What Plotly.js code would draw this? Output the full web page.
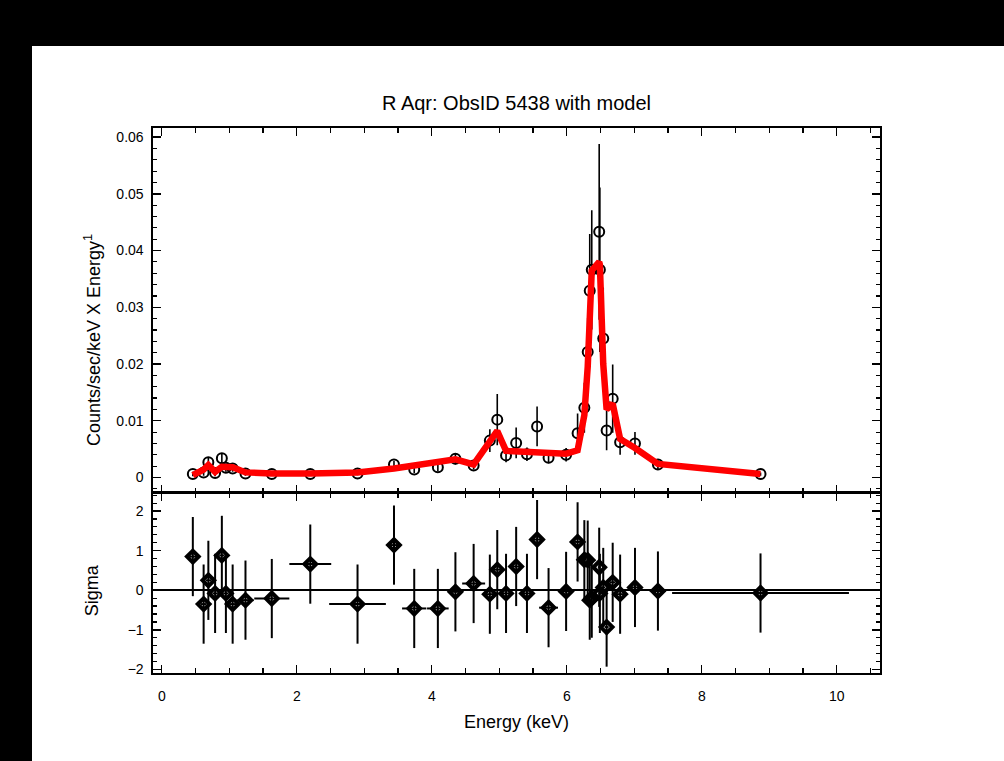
<!DOCTYPE html>
<html>
<head>
<meta charset="utf-8">
<script src="https://cdn.plot.ly/plotly-3.0.1.min.js"></script>
<style>
  html, body { margin: 0; padding: 0; background: #000; width: 1004px; height: 761px; overflow: hidden; }
  #plot { position: absolute; left: 32px; top: 46px; width: 972px; height: 715px; background: #fff; }
</style>
</head>
<body>
<div id="plot"></div>
<script>
// Energy bins (keV) and half-widths
const energy = [0.46,0.62,0.69,0.79,0.89,0.95,1.05,1.24,1.63,2.20,2.90,3.44,3.74,4.09,4.35,4.62,4.86,4.97,5.10,5.25,5.41,5.56,5.73,5.99,6.16,6.26,6.31,6.34,6.37,6.48,6.49,6.54,6.59,6.68,6.79,7.01,7.35,8.87];
const energyErr = [0.05,0.04,0.04,0.04,0.04,0.04,0.05,0.12,0.26,0.31,0.42,0.08,0.18,0.16,0.08,0.17,0.06,0.05,0.06,0.07,0.07,0.07,0.14,0.08,0.05,0.03,0.02,0.02,0.02,0.02,0.02,0.03,0.03,0.04,0.06,0.08,0.12,1.31];
// Observed counts/sec/keV x Energy^1 and errors
const counts = [0.0006,0.0009,0.0027,0.0008,0.0034,0.0017,0.0016,0.0007,0.0006,0.0006,0.0007,0.0023,0.0014,0.0018,0.0033,0.0021,0.0065,0.0102,0.0039,0.0061,0.0041,0.0090,0.0035,0.0040,0.0078,0.0123,0.0221,0.0329,0.0366,0.0433,0.0366,0.0245,0.0083,0.0139,0.0062,0.0060,0.0023,0.0006];
const countsErr = [0.0004,0.0006,0.0008,0.0006,0.0009,0.0007,0.0006,0.0004,0.0003,0.0003,0.0003,0.0006,0.0006,0.0007,0.0010,0.0007,0.0020,0.0045,0.0012,0.0027,0.0012,0.0035,0.0010,0.0012,0.0035,0.0044,0.0060,0.0100,0.0105,0.0155,0.0145,0.0090,0.0035,0.0060,0.0022,0.0020,0.0008,0.0003];
// Model
const model = [0.0004,0.0014,0.0022,0.0010,0.0019,0.0019,0.0018,0.0009,0.0007,0.0007,0.0009,0.0016,0.0022,0.0028,0.0032,0.0023,0.0065,0.0082,0.0047,0.0046,0.0045,0.0044,0.0043,0.0042,0.0048,0.0110,0.0195,0.0285,0.0365,0.0380,0.0375,0.0200,0.0120,0.0130,0.0068,0.0052,0.0024,0.0006];
// Residuals (sigma)
const sigma = [0.85,-0.35,0.25,-0.08,0.88,-0.08,-0.35,-0.25,-0.21,0.66,-0.35,1.14,-0.46,-0.46,-0.04,0.17,-0.10,0.52,-0.08,0.60,-0.08,1.28,-0.44,-0.03,1.22,0.77,0.76,-0.25,-0.20,0.58,-0.08,0.07,-0.93,0.20,-0.10,0.07,-0.02,-0.07];
const sigmaErr = [1,1,1,1,1,1,1,1,1,1,1,1,1,1,1,1,1,1,1,1,1,1,1,1,1,1,1,1,1,1,1,1,1,1,1,1,1,1];

const xTicks = [0,2,4,6,8,10];
const yTopTicks = [0,0.01,0.02,0.03,0.04,0.05,0.06];
const yTopLabels = ['0','0.01','0.02','0.03','0.04','0.05','0.06'];
const yBotTicks = [-2,-1,0,1,2];

const FONT = 'Liberation Sans, Arial, sans-serif';

const traces = [
  {
    x: energy, y: counts, xaxis: 'x2', yaxis: 'y', type: 'scatter', mode: 'markers',
    name: 'data',
    marker: {symbol: 'circle-open', size: 10, color: '#000', line: {width: 2, color: '#000'}},
    error_y: {type: 'data', array: countsErr, visible: true, color: '#000', thickness: 1.6, width: 0},
    showlegend: false
  },
  {
    x: energy, y: model, xaxis: 'x2', yaxis: 'y', type: 'scatter', mode: 'lines',
    name: 'model',
    line: {color: '#ff0000', width: 6.5},
    showlegend: false
  },
  {
    x: energy, y: sigma, xaxis: 'x', yaxis: 'y2', type: 'scatter', mode: 'markers',
    name: 'residuals',
    marker: {symbol: 'diamond-open', size: 9, color: '#000', line: {width: 4, color: '#000'}},
    error_y: {type: 'data', array: sigmaErr, visible: true, color: '#000', thickness: 2, width: 0},
    error_x: {type: 'data', array: energyErr, visible: true, color: '#000', thickness: 2, width: 0},
    showlegend: false
  }
];

const xRange = [-0.13, 10.64];
const commonAxis = {
  showline: true, linecolor: '#000', linewidth: 1.6, mirror: 'ticks',
  ticks: 'inside', ticklen: 8, tickwidth: 1.4, tickcolor: '#000',
  showgrid: false, zeroline: false,
  tickfont: {family: FONT, size: 14, color: '#000'}
};

const layout = {
  width: 972, height: 715,
  margin: {l: 121, r: 124, t: 82, b: 88},
  paper_bgcolor: '#fff', plot_bgcolor: '#fff',
  showlegend: false,
  title: {text: 'R Aqr: ObsID 5438 with model', font: {family: FONT, size: 20, color: '#000'},
          x: 0.5, xref: 'paper', xanchor: 'center', y: 1 - 57/715, yref: 'container', yanchor: 'middle'},
  xaxis: Object.assign({}, commonAxis, {
    domain: [0, 1], anchor: 'y2', range: xRange, tickvals: xTicks,
    minor: {ticks: 'inside', ticklen: 5, tickwidth: 1.2, tickcolor: '#000', dtick: 0.5, tick0: 0, showgrid: false},
    ticklabelstandoff: 10,
    title: {text: 'Energy (keV)', font: {family: FONT, size: 18, color: '#000'}, standoff: 12}
  }),
  xaxis2: Object.assign({}, commonAxis, {
    domain: [0, 1], anchor: 'y', range: xRange, tickvals: xTicks, showticklabels: false,
    minor: {ticks: 'inside', ticklen: 5, tickwidth: 1.2, tickcolor: '#000', dtick: 0.5, tick0: 0, showgrid: false}
  }),
  yaxis: Object.assign({}, commonAxis, {
    domain: [0.3306, 1], anchor: 'x2', range: [-0.0027, 0.0616],
    tickvals: yTopTicks, ticktext: yTopLabels, ticklabelstandoff: 5,
    minor: {ticks: 'inside', ticklen: 4, tickwidth: 1.2, tickcolor: '#000', dtick: 0.002, tick0: 0, showgrid: false}
  }),
  yaxis2: Object.assign({}, commonAxis, {
    domain: [0, 0.3306], anchor: 'x', range: [-2.09, 2.46],
    tickvals: yBotTicks, ticklabelstandoff: 5,
    zeroline: true, zerolinecolor: '#000', zerolinewidth: 1.6,
    minor: {ticks: 'inside', ticklen: 4, tickwidth: 1.2, tickcolor: '#000', dtick: 0.2, tick0: 0, showgrid: false}
  }),
  annotations: [
    {text: 'Counts/sec/keV X Energy<sup>1</sup>', xref: 'paper', yref: 'paper', x: -0.0839, y: 0.611,
     xanchor: 'center', yanchor: 'middle', textangle: -90, showarrow: false,
     font: {family: FONT, size: 18, color: '#000'}},
    {text: 'Sigma', xref: 'paper', yref: 'paper', x: -0.0839, y: 0.152,
     xanchor: 'center', yanchor: 'middle', textangle: -90, showarrow: false,
     font: {family: FONT, size: 18, color: '#000'}}
  ]
};

Plotly.newPlot('plot', traces, layout, {displayModeBar: false, staticPlot: true});
</script>
</body>
</html>
